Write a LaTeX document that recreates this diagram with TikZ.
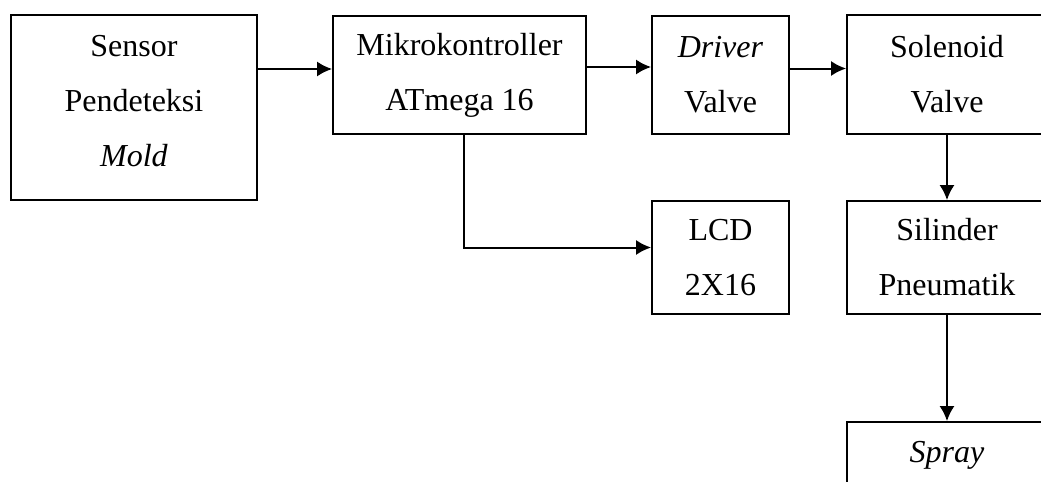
\documentclass[tikz,border=0pt]{standalone}
\usepackage{fontspec}
\setmainfont{Liberation Serif}
\usetikzlibrary{arrows.meta}

\tikzset{blok/.style={draw, line width=0.9pt, align=center, inner sep=0pt,
    font=\fontsize{16}{27.5}\selectfont}}

\begin{document}
\begin{tikzpicture}[>={Latex[length=7.5pt,width=7.5pt]},line join=miter,x=0.5pt,y=-0.5pt]
  \clip (0,0) rectangle (1041,482);
  \pgfsetlinewidth{1pt}
  %%
  % Node: sensor
  \node[blok, minimum width=123pt, minimum height=92.5pt, text depth=7pt] (sensor) at (134,107.5) {Sensor\\Pendeteksi\\\textit{Mold}};
  % Node: mikro
  \node[blok, minimum width=126.5pt, minimum height=59pt] (mikro) at (459.5,75) {Mikrokontroller\\ATmega 16};
  % Node: driver
  \node[blok, minimum width=68.5pt, minimum height=59pt] (driver) at (720.5,75) {\textit{Driver}\\Valve};
  % Node: solenoid
  \node[blok, minimum width=100pt, minimum height=59.5pt] (solenoid) at (947,74.5) {Solenoid\\Valve};
  % Node: lcd
  \node[blok, minimum width=68.5pt, minimum height=56.5pt] (lcd) at (720.5,257.5) {LCD\\2X16};
  % Node: silinder
  \node[blok, minimum width=100pt, minimum height=56.5pt] (silinder) at (947,257.5) {Silinder\\Pneumatik};
  % Node: spray
  \node[blok, minimum width=100pt, minimum height=33pt] (spray) at (947,455) {\textit{Spray}};
  %%
  \coordinate (mikroin) at ([yshift=3pt]mikro.west);
  \coordinate (driverin) at ([yshift=4pt]driver.west);
  \coordinate (solenoidin) at ([yshift=3pt]solenoid.west);
  \coordinate (lcdin) at ([yshift=5pt]lcd.west);
  \coordinate (mikroout) at ([xshift=2.25pt]mikro.south);
  % Edge: sensor -> mikro
  \draw [->] (sensor.east |- mikroin) -- (mikroin);
  % Edge: mikro -> driver
  \draw [->] (mikro.east |- driverin) -- (driverin);
  % Edge: driver -> solenoid
  \draw [->] (driver.east |- solenoidin) -- (solenoidin);
  % Edge: mikro -> lcd
  \draw [->] (mikroout) |- (lcdin);
  % Edge: solenoid -> silinder
  \draw [->] (solenoid.south) -- (silinder.north);
  % Edge: silinder -> spray
  \draw [->] (silinder.south) -- (spray.north);
  %
\end{tikzpicture}
\end{document}
